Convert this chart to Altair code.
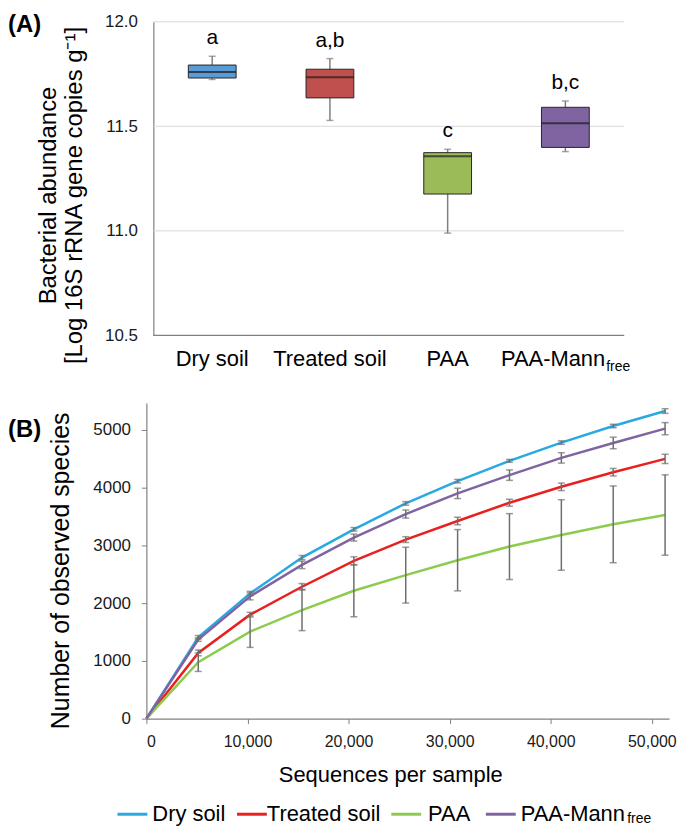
import altair as alt
import pandas as pd

# ---------------- Panel A data (box plots) ----------------
groups = ["Dry soil", "Treated soil", "PAA", "PAA-Mann_free"]
group_main = ["Dry soil", "Treated soil", "PAA", "PAA-Mann"]
group_sub = ["", "", "", "free"]
box_colors = ["#5B9BD5", "#C0504D", "#9BBB59", "#8064A2"]
whisker_low = [11.724, 11.528, 10.989, 11.379]
q1 = [11.731, 11.636, 11.176, 11.399]
median = [11.760, 11.735, 11.357, 11.515]
q3 = [11.793, 11.773, 11.374, 11.591]
whisker_high = [11.835, 11.824, 11.390, 11.621]
letters = ["a", "a,b", "c", "b,c"]
a_ticks = [10.5, 11.0, 11.5, 12.0]

# ---------------- Panel B data (rarefaction curves) ----------------
series = ["Dry soil", "Treated soil", "PAA", "PAA-Mann_free"]
line_colors = ["#29A9E1", "#E8201E", "#8DCB4F", "#8064A2"]
depths = [0, 5131, 10262, 15393, 20524, 25655, 30786, 35917, 41048, 46179, 51310]
dry = [0, 1408, 2167, 2787, 3276, 3724, 4109, 4460, 4776, 5063, 5322]
dry_sd = [0, 30, 35, 35, 30, 30, 30, 25, 30, 30, 40]
treated = [0, 1138, 1799, 2282, 2730, 3098, 3420, 3736, 4011, 4264, 4494]
treated_sd = [0, 50, 40, 55, 70, 50, 65, 60, 65, 65, 80]
paa = [0, 977, 1506, 1879, 2213, 2483, 2741, 2977, 3178, 3362, 3523]
paa_sd = [0, 160, 273, 356, 450, 483, 530, 570, 610, 664, 695]
mann = [0, 1368, 2115, 2661, 3132, 3540, 3897, 4213, 4511, 4770, 5017]
mann_sd = [0, 30, 60, 65, 60, 70, 90, 90, 90, 100, 105]
b_yticks = [0, 1000, 2000, 3000, 4000, 5000]
b_xticks = [0, 10000, 20000, 30000, 40000, 50000]

FONT = "Liberation Sans, Arial, sans-serif"

# ================= Panel A =================
# plot area starts 7px left of the y axis so both panels share one origin
INSET = 7
WA, HA = 473 + INSET, 315
box_df = pd.DataFrame({
    "group": groups, "main": group_main, "sub": group_sub,
    "lo": whisker_low, "q1": q1, "med": median, "q3": q3, "hi": whisker_high,
    "letter": letters,
})
grid_df = pd.DataFrame({"v": a_ticks})

xA = alt.X("group:N", scale=alt.Scale(domain=groups, range=[INSET, WA], paddingInner=0,
                                      paddingOuter=0), axis=None)
yscaleA = alt.Scale(domain=[10.5, 12.0], nice=False, zero=False)
yaxisA = alt.Axis(values=a_ticks, format=".1f", grid=False, ticks=False, offset=-INSET,
                  labelPadding=16, labelFontSize=17,
                  labelColor="#1a1a1a", domainColor="#808080", domainWidth=1.2,
                  title=["Bacterial abundance", "[Log 16S rRNA gene copies g\u207b\u00b9]"],
                  titleFontSize=24, titleFontWeight="normal", titleColor="#000000",
                  titleLineHeight=26, titlePadding=18, titleY=174)

gridA = alt.Chart(grid_df).transform_filter("datum.v > 10.5").mark_rule(
    color="#d9d9d9", strokeWidth=1).encode(
    y=alt.Y("v:Q", scale=yscaleA, axis=yaxisA), x=alt.value(INSET), x2=alt.value(WA))
baseLineA = alt.Chart(grid_df).transform_filter("datum.v == 10.5").mark_rule(
    color="#808080", strokeWidth=1.2).encode(
    y=alt.Y("v:Q", scale=yscaleA, axis=yaxisA), x=alt.value(INSET), x2=alt.value(WA))

baseA = alt.Chart(box_df)
whisk = baseA.mark_rule(color="#7f7f7f", strokeWidth=1.5).encode(
    x=xA, y=alt.Y("lo:Q", scale=yscaleA, axis=yaxisA), y2="hi:Q")
boxes = baseA.mark_bar(size=48, stroke="#262626", strokeWidth=1).encode(
    x=xA, y=alt.Y("q1:Q", scale=yscaleA, axis=yaxisA), y2="q3:Q",
    color=alt.Color("group:N", scale=alt.Scale(domain=groups, range=box_colors), legend=None))
meds = baseA.mark_tick(size=48, thickness=2, color="#1a1a1a", orient="horizontal").encode(
    x=xA, y=alt.Y("med:Q", scale=yscaleA, axis=yaxisA))
cap_hi = baseA.mark_tick(size=7, thickness=1.5, color="#7f7f7f", orient="horizontal").encode(
    x=xA, y=alt.Y("hi:Q", scale=yscaleA, axis=yaxisA))
cap_lo = baseA.mark_tick(size=7, thickness=1.5, color="#7f7f7f", orient="horizontal").encode(
    x=xA, y=alt.Y("lo:Q", scale=yscaleA, axis=yaxisA))
lett = baseA.mark_text(dy=-12, baseline="alphabetic", fontSize=21, color="#000000").encode(
    x=xA, y=alt.Y("hi:Q", scale=yscaleA, axis=yaxisA), text="letter:N")
cat_plain = baseA.transform_filter("datum.sub == ''").mark_text(
    baseline="alphabetic", fontSize=22, color="#000000").encode(
    x=xA, y=alt.value(HA + 31), text="main:N")
cat_main = baseA.transform_filter("datum.sub != ''").mark_text(
    baseline="alphabetic", align="right", dx=40, fontSize=22, color="#000000").encode(
    x=xA, y=alt.value(HA + 31), text="main:N")
cat_sub = baseA.transform_filter("datum.sub != ''").mark_text(
    baseline="alphabetic", align="left", dx=41, dy=5, fontSize=14, color="#000000").encode(
    x=xA, y=alt.value(HA + 31), text="sub:N")
labA = alt.Chart(pd.DataFrame({"t": ["(A)"]})).mark_text(
    align="left", baseline="middle", fontSize=24, fontWeight="bold", color="#000000").encode(
    x=alt.value(-139), y=alt.value(3), text="t:N")

panelA = alt.layer(gridA, baseLineA, whisk, boxes, meds, cap_hi, cap_lo, lett,
                   cat_plain, cat_main, cat_sub, labA).properties(width=WA, height=HA)

# ================= Panel B =================
WB, HB = 525, 317
rows = []
for name, vals, sds in zip(series, [dry, treated, paa, mann],
                           [dry_sd, treated_sd, paa_sd, mann_sd]):
    for d, v, s in zip(depths, vals, sds):
        rows.append({"series": name, "depth": d, "mean": v, "lo": v - s, "hi": v + s})
curve_df = pd.DataFrame(rows)

xscaleB = alt.Scale(domain=[0, 51700], nice=False, zero=True)
yscaleB = alt.Scale(domain=[0, 5460], nice=False, zero=True)
xaxisB = alt.Axis(values=b_xticks, format=",.0f", grid=False, tickSize=5, tickColor="#808080",
                  domainColor="#808080", domainWidth=1.2, labelFontSize=16, labelColor="#1a1a1a",
                  labelPadding=10, title="Sequences per sample", titleFontSize=22,
                  titleFontWeight="normal", titleColor="#000000", titlePadding=15, titleX=245)
yaxisB = alt.Axis(values=b_yticks, format="d", grid=False, tickSize=5, tickColor="#808080",
                  domainColor="#808080", domainWidth=1.2, labelFontSize=17, labelColor="#1a1a1a",
                  labelPadding=11, title="Number of observed species", titleFontSize=25,
                  titleFontWeight="normal", titleColor="#000000", titlePadding=19, titleY=168)
colorB = alt.Color("series:N", scale=alt.Scale(domain=series, range=line_colors), legend=None)

baseB = alt.Chart(curve_df)
lines = baseB.mark_line(strokeWidth=2.5).encode(
    x=alt.X("depth:Q", scale=xscaleB, axis=xaxisB),
    y=alt.Y("mean:Q", scale=yscaleB, axis=yaxisB),
    color=colorB, order="depth:Q")
err = baseB.transform_filter("datum.depth > 0").mark_rule(color="#6f6f6f", strokeWidth=1.5).encode(
    x=alt.X("depth:Q", scale=xscaleB, axis=xaxisB),
    y=alt.Y("lo:Q", scale=yscaleB, axis=yaxisB), y2="hi:Q")
err_hi = baseB.transform_filter("datum.depth > 0").mark_tick(
    orient="horizontal", size=7, thickness=1.5, color="#6f6f6f").encode(
    x=alt.X("depth:Q", scale=xscaleB, axis=xaxisB),
    y=alt.Y("hi:Q", scale=yscaleB, axis=yaxisB))
err_lo = baseB.transform_filter("datum.depth > 0").mark_tick(
    orient="horizontal", size=7, thickness=1.5, color="#6f6f6f").encode(
    x=alt.X("depth:Q", scale=xscaleB, axis=xaxisB),
    y=alt.Y("lo:Q", scale=yscaleB, axis=yaxisB))

# custom legend below panel B
leg_line_x = [-29, 91, 246, 341]
leg_text_x = [6, 121, 283, 376]
LEG_Y = 413
leg_layers = []
for i, name in enumerate(series):
    ldf = pd.DataFrame({"series": [name], "main": [group_main[i]], "sub": [group_sub[i]]})
    leg_layers.append(alt.Chart(ldf).mark_rule(strokeWidth=3).encode(
        x=alt.value(leg_line_x[i]), x2=alt.value(leg_line_x[i] + 30), y=alt.value(LEG_Y),
        color=colorB))
    leg_layers.append(alt.Chart(ldf).mark_text(
        align="left", baseline="middle", fontSize=22, color="#000000").encode(
        x=alt.value(leg_text_x[i]), y=alt.value(LEG_Y), text="main:N"))
    if group_sub[i]:
        leg_layers.append(alt.Chart(ldf).mark_text(
            align="left", baseline="middle", fontSize=14, color="#000000").encode(
            x=alt.value(leg_text_x[i] + 107), y=alt.value(LEG_Y + 5), text="sub:N"))

labB = alt.Chart(pd.DataFrame({"t": ["(B)"]})).mark_text(
    align="left", baseline="middle", fontSize=24, fontWeight="bold", color="#000000").encode(
    x=alt.value(-139), y=alt.value(27), text="t:N")

panelB = alt.layer(lines, err, err_hi, err_lo, *leg_layers, labB).properties(width=WB, height=HB)

chart = alt.concat(panelA, panelB, columns=1, spacing=29, align="none").resolve_scale(
    color="independent"
).properties(
    padding={"left": 0, "top": 3, "right": 0, "bottom": 0}
).configure(font=FONT).configure_view(stroke=None).configure_axis(labelFont=FONT, titleFont=FONT)

chart.save("out.html", embed_options={"renderer": "svg", "actions": False})
